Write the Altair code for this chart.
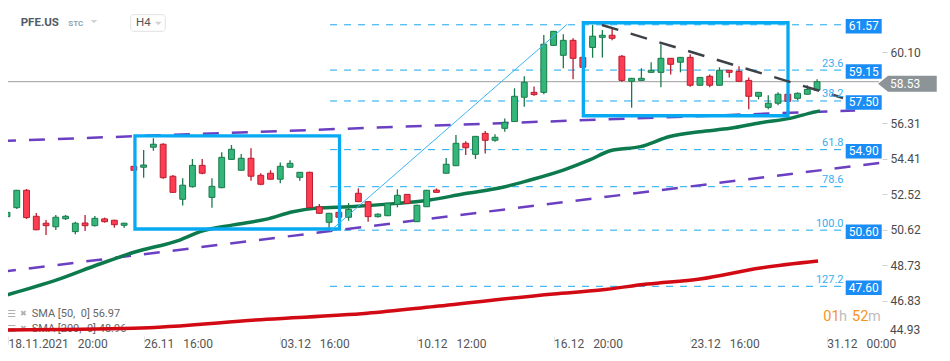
import altair as alt
import pandas as pd
import numpy as np

# ---------------- data ----------------
opens = [51.32, 51.80, 52.73, 51.34, 50.97, 50.78, 51.21, 50.52, 50.98, 50.84,
         51.20, 51.13, 50.86, 54.01, 53.96, 55.03, 55.19, 53.48, 52.25, 52.92,
         54.06, 52.35, 52.87, 54.38, 53.80, 54.44, 53.53, 53.64, 53.32, 53.96,
         53.42, 53.69, 51.85, 51.02, 51.55, 51.29, 52.57, 52.12, 51.32, 51.37,
         51.98, 52.51, 51.05, 51.85, 52.74, 53.64, 54.04, 55.24, 54.65, 55.77,
         55.40, 56.04, 56.40, 57.70, 57.96, 57.96, 60.47, 59.94, 60.74, 59.83,
         60.36, 60.90, 61.01, 59.89, 58.55, 58.60, 59.03, 59.03, 59.78, 59.57,
         59.83, 58.34, 58.82, 58.34, 59.14, 59.08, 58.60, 57.75, 57.16, 57.38,
         57.86, 57.64, 57.86, 58.07]
highs = [51.57, 52.75, 52.80, 51.52, 51.14, 51.41, 51.41, 51.05, 51.41, 51.36,
         51.27, 51.15, 50.99, 54.02, 54.88, 55.51, 55.24, 53.55, 53.37, 54.40,
         54.40, 53.37, 54.76, 55.15, 54.67, 54.97, 53.64, 53.80, 54.22, 54.33,
         53.71, 53.72, 51.99, 51.52, 51.57, 52.05, 52.83, 52.14, 51.50, 52.05,
         52.78, 52.53, 51.95, 52.75, 52.83, 54.45, 55.68, 55.35, 55.63, 55.90,
         55.72, 56.57, 58.18, 58.82, 58.28, 61.02, 61.24, 61.06, 60.85, 59.85,
         61.57, 61.29, 61.34, 59.96, 58.73, 59.25, 59.57, 60.53, 59.80, 59.85,
         59.99, 58.78, 58.92, 59.30, 59.16, 59.35, 58.76, 57.98, 57.80, 57.96,
         57.88, 57.96, 58.34, 58.66]
lows = [51.05, 51.73, 51.20, 50.60, 50.34, 50.61, 51.14, 50.38, 50.55, 50.80,
        51.00, 50.73, 50.73, 53.78, 53.40, 54.84, 53.35, 52.60, 51.91, 52.87,
        53.58, 51.80, 52.84, 54.36, 53.78, 53.24, 53.00, 53.30, 53.10, 53.94,
        53.24, 51.78, 51.48, 50.60, 51.27, 51.10, 52.10, 51.05, 51.28, 51.35,
        51.82, 52.01, 51.03, 51.83, 52.60, 53.62, 54.02, 54.61, 54.40, 54.70,
        55.32, 55.86, 56.38, 57.19, 57.78, 57.86, 60.45, 59.25, 58.66, 59.28,
        59.81, 59.82, 60.74, 58.53, 57.14, 58.58, 59.01, 58.23, 58.92, 59.03,
        58.26, 58.32, 58.23, 58.32, 58.76, 58.53, 57.06, 57.59, 57.06, 57.27,
        57.46, 57.54, 57.84, 58.05]
closes = [51.55, 52.73, 51.27, 50.62, 50.84, 51.29, 51.34, 50.97, 50.84, 51.23,
          51.05, 50.89, 50.97, 53.80, 54.08, 55.19, 53.40, 52.62, 53.00, 54.06,
          53.64, 52.94, 54.49, 54.92, 54.44, 53.48, 53.05, 53.32, 54.01, 54.17,
          53.69, 51.80, 51.50, 51.50, 51.29, 51.71, 52.12, 51.32, 51.45, 52.03,
          52.46, 52.03, 51.93, 52.73, 52.62, 54.12, 55.24, 55.00, 55.61, 55.40,
          55.56, 56.36, 57.75, 58.50, 57.84, 60.53, 61.22, 60.74, 59.78, 59.30,
          60.96, 61.01, 60.85, 58.60, 58.71, 58.71, 59.14, 59.78, 59.46, 59.83,
          58.34, 58.76, 58.34, 59.14, 59.03, 58.55, 57.75, 57.96, 57.38, 57.86,
          57.48, 57.91, 58.12, 58.53]

sma50_idx = [0, 5.1, 9.5, 13.1, 17.7, 19.8, 23.2, 26.6, 29.3, 31.8, 35.1, 40.0,
             43.3, 46.7, 50.8, 53.6, 57.0, 59.7, 61.8, 64.9, 67.9, 71.0, 74.1,
             77.2, 80.2, 82.6, 83.3]
sma50_val = [47.14, 47.94, 48.79, 49.43, 50.07, 50.52, 50.88, 51.19, 51.58, 51.78,
             51.85, 52.03, 52.21, 52.53, 52.89, 53.28, 53.81, 54.35, 54.84, 55.06,
             55.60, 55.86, 56.04, 56.34, 56.57, 56.89, 56.97]
sma200_idx = [0, 13.0, 26.6, 36.9, 43.8, 56.0, 60.8, 65.6, 71.0, 77.2, 83.1]
sma200_val = [45.27, 45.36, 45.84, 46.16, 46.52, 47.19, 47.40, 47.72, 47.99, 48.58, 48.95]

fib_pct = ["", "23.6", "38.2", "61.8", "78.6", "100.0", "127.2"]
fib_price = [61.57, 59.15, 57.50, 54.90, 52.92, 50.60, 47.60]
fib_boxed = [True, True, True, True, False, True, True]
fib_start, fib_end = 33.1, 85.86

channel_grp = ["up", "up", "low", "low"]
channel_idx = [-0.72, 86.9, -0.72, 89.4]
channel_val = [55.36, 56.99, 48.36, 54.19]

trend_idx = [60.96, 85.66]
trend_val = [61.56, 57.66]
diag_idx = [33.1, 57.4]
diag_val = [50.55, 61.60]

box_i0 = [13.11, 59.05]
box_i1 = [34.07, 80.02]
box_p0 = [50.66, 56.71]
box_p1 = [55.64, 61.68]

last_price = 58.53
y_ticks = [46.83, 48.73, 50.62, 52.52, 54.41, 56.31, 60.10]
x_tick_pos = [0.11, 14, 28, 42, 56, 70, 84]
NB = "\u00a0\u00a0\u00a0"
x_tick_txt = ["18.11.2021" + NB + "20:00", "26.11" + NB + "16:00", "03.12" + NB + "16:00",
              "10.12" + NB + "12:00", "16.12" + NB + "20:00", "23.12" + NB + "16:00",
              "31.12" + NB + "00:00"]

# ---------------- layout ----------------
W, H = 872, 328
X_DOM = [0.1025, 89.447]
Y_DOM = [44.945, 62.467]
PPX = (Y_DOM[1] - Y_DOM[0]) / H
FONT = "Roboto"

xs = alt.Scale(domain=X_DOM, nice=False, zero=False)
ys = alt.Scale(domain=Y_DOM, nice=False, zero=False)

expr = "''"
for k in range(len(x_tick_pos) - 1, -1, -1):
    if k == len(x_tick_pos) - 1:
        expr = "'" + x_tick_txt[k] + "'"
    else:
        mid = (x_tick_pos[k] + x_tick_pos[k + 1]) / 2
        expr = "datum.value < %s ? '%s' : (%s)" % (mid, x_tick_txt[k], expr)

x_axis = alt.Axis(values=x_tick_pos, labelExpr=expr, title=None, domain=False, grid=False,
                  ticks=True, tickSize=8, tickColor="#e6e6e6", labelPadding=-6,
                  labelAlign="left", labelBaseline="top", labelFontSize=12,
                  labelColor="#555555", labelFont=FONT, labelOverlap=False,
                  labelFlush=False, labelBound=False)
y_axis = alt.Axis(values=y_ticks, orient="right", title=None, domain=False, grid=False,
                  ticks=True, tickSize=5, tickColor="#d0d0d0", offset=2, labelPadding=3,
                  labelFontSize=12, labelColor="#4a4a4a", labelFont=FONT,
                  labelOverlap=False, labelFlush=False, labelBound=False, format=".2f")


def X(f):
    return alt.X(f, type="quantitative", scale=xs, axis=x_axis)


def Y(f):
    return alt.Y(f, type="quantitative", scale=ys, axis=y_axis)


def txt(t, x, y, **kw):
    return alt.Chart(pd.DataFrame({"t": [t]})).mark_text(font=FONT, **kw).encode(
        x=alt.value(x), y=alt.value(y), text="t:N")


# candles
cd = pd.DataFrame({"i": list(range(len(opens))), "o": opens, "h": highs, "l": lows, "c": closes})
cd["dir"] = np.where(cd.c >= cd.o, "up", "down")
cd["x1"] = cd.i - 0.3
cd["x2"] = cd.i + 0.3
cd["top"] = np.maximum(cd.o, cd.c)
cd["bot"] = np.minimum(cd.o, cd.c)
cd["bot"] = np.minimum(cd["bot"], cd["top"] - 0.09)

fill_sc = alt.Scale(domain=["up", "down"], range=["#33b679", "#ff3d52"])
edge_sc = alt.Scale(domain=["up", "down"], range=["#1b7a4c", "#b81e30"])

wicks = alt.Chart(cd).mark_rule(strokeWidth=1.3).encode(
    x=X("i"), y=Y("l"), y2="h", color=alt.Color("dir:N", scale=edge_sc, legend=None))
bodies = alt.Chart(cd).mark_rect(strokeWidth=1).encode(
    x=X("x1"), x2="x2", y=Y("top"), y2="bot",
    fill=alt.Fill("dir:N", scale=fill_sc, legend=None),
    stroke=alt.Stroke("dir:N", scale=edge_sc, legend=None))

# fib
fd = pd.DataFrame({"p": fib_price, "pct": fib_pct, "boxed": fib_boxed})
fd["x0"] = fib_start
fd["x1"] = fib_end
fd["xl"] = 85.71
fd["bt"] = fd.p + 5.75 * PPX
fd["bb"] = fd.p - 8.75 * PPX
fib_lines = alt.Chart(fd).mark_rule(strokeDash=[7, 7], color="#1aa7ee", strokeWidth=1).encode(
    x=X("x0"), x2="x1", y=Y("p"))
fib_txt = alt.Chart(fd).mark_text(align="right", baseline="middle", dy=-6.5, fontSize=11,
                                  color="#35aef2", font=FONT).encode(
    x=X("xl"), y=Y("p"), text="pct:N")
bx = fd[fd.boxed].copy()
bx["lab"] = bx.p.map(lambda v: "%.2f" % v)
fib_box = alt.Chart(bx).mark_rect(fill="#1a8cf5").encode(
    x=alt.value(837.7), x2=alt.value(873.7), y=Y("bt"), y2="bb")
fib_box_t = alt.Chart(bx).mark_text(align="center", baseline="middle", dy=1.5, fontSize=12,
                                    color="white", font=FONT).encode(
    x=alt.value(855.7), y=Y("p"), text="lab:N")

# last price line + tag
lp = pd.DataFrame({"p": [last_price], "lab": ["%.2f" % last_price]})
lp_line = alt.Chart(lp).mark_rule(color="#9d9d9d", strokeWidth=1).encode(
    x=alt.value(0), x2=alt.value(871), y=Y("p"))
tag_shape = "M-1,0L-0.66,-0.2726L1,-0.2726L1,0.2726L-0.66,0.2726Z"
lp_tag = alt.Chart(lp).mark_point(shape=tag_shape, size=3446, filled=True, opacity=1,
                                  color="#8c9497", yOffset=2).encode(
    x=alt.value(899.4), y=Y("p"))
lp_txt = alt.Chart(lp).mark_text(align="left", baseline="middle", dy=2, fontSize=12,
                                 color="white", font=FONT).encode(
    x=alt.value(882), y=Y("p"), text="lab:N")

# channel lines
ch = pd.DataFrame({"g": channel_grp, "i": channel_idx, "p": channel_val})
channel = alt.Chart(ch).mark_line(strokeDash=[16, 13], strokeWidth=2.5, color="#6a3fc2").encode(
    x=X("i"), y=Y("p"), detail="g:N")

# SMAs
s50 = pd.DataFrame({"i": sma50_idx, "p": sma50_val})
s200 = pd.DataFrame({"i": sma200_idx, "p": sma200_val})
sma50 = alt.Chart(s50).mark_line(strokeWidth=3.5, color="#0c7a4c", interpolate="monotone").encode(
    x=X("i"), y=Y("p"))
sma200 = alt.Chart(s200).mark_line(strokeWidth=3.5, color="#d20a14", interpolate="monotone").encode(
    x=X("i"), y=Y("p"))

# drawings
tr = pd.DataFrame({"i": trend_idx, "p": trend_val})
trend = alt.Chart(tr).mark_line(strokeDash=[17, 13], strokeWidth=2.5, color="#3c4147").encode(
    x=X("i"), y=Y("p"))
dg = pd.DataFrame({"i": diag_idx, "p": diag_val})
diag = alt.Chart(dg).mark_line(strokeWidth=1, color="#3ab5f5").encode(x=X("i"), y=Y("p"))
bxd = pd.DataFrame({"i0": box_i0, "i1": box_i1, "p0": box_p0, "p1": box_p1})
boxes = alt.Chart(bxd).mark_rect(fill="white", fillOpacity=0, stroke="#07a9f2", strokeWidth=3.3).encode(
    x=X("i0"), x2="i1", y=Y("p0"), y2="p1")

# decorations
tri = "M-1,-0.5L1,-0.5L0,0.5Z"
deco = [
    txt("PFE.US", 12.7, 15.2, align="left", baseline="middle", fontSize=11.5, fontWeight="bold", color="#515b65"),
    txt("STC", 60.3, 16.4, align="left", baseline="middle", fontSize=8, fontWeight="bold", color="#90a4b6"),
    alt.Chart(pd.DataFrame({"t": [1]})).mark_point(shape=tri, size=44, filled=True, opacity=1, color="#d2d2d2").encode(
        x=alt.value(86), y=alt.value(13.7)),
    alt.Chart(pd.DataFrame({"t": [1]})).mark_rect(fill="white", stroke="#e2e2e2", strokeWidth=1, cornerRadius=3).encode(
        x=alt.value(122.7), x2=alt.value(157.3), y=alt.value(6.7), y2=alt.value(23.3)),
    txt("H4", 128, 15.2, align="left", baseline="middle", fontSize=11.5, color="#555555"),
    alt.Chart(pd.DataFrame({"t": [1]})).mark_point(shape=tri, size=44, filled=True, opacity=1, color="#d2d2d2").encode(
        x=alt.value(150.3), y=alt.value(15.5)),
    txt("\u2630", -1, 306, align="left", baseline="middle", fontSize=10, color="#b0b0b0", ),
    txt("\u2716", 15.5, 306, align="center", baseline="middle", fontSize=8, color="#b0b0b0"),
    txt("SMA [50,\u00a0 0] 56.97", 23.7, 306.3, align="left", baseline="middle", fontSize=11, color="#666666"),
    txt("\u2630", -1, 320.5, align="left", baseline="middle", fontSize=10, color="#b0b0b0"),
    txt("\u2716", 15.5, 320.5, align="center", baseline="middle", fontSize=8, color="#b0b0b0"),
    txt("SMA [200,\u00a0 0] 48.96", 23.7, 320.8, align="left", baseline="middle", fontSize=11, color="#666666"),
]
extra = [
    txt("44.93", 882, 322, align="left", baseline="middle", fontSize=12, color="#4a4a4a"),
    txt("01", 815.3, 308.7, align="left", baseline="middle", fontSize=14.5, color="#f7931e"),
    txt("h", 831, 308.7, align="left", baseline="middle", fontSize=14.5, color="#bdbdbd"),
    txt("52", 844, 308.7, align="left", baseline="middle", fontSize=14.5, color="#f7931e"),
    txt("m", 860, 308.7, align="left", baseline="middle", fontSize=14.5, color="#bdbdbd"),
]

chart = alt.layer(
    fib_lines, lp_line, *deco, channel, sma200, sma50, wicks, bodies, boxes, diag, trend,
    fib_txt, fib_box, fib_box_t, lp_tag, lp_txt, *extra
).properties(
    width=W, height=H,
    autosize=alt.AutoSizeParams(type="none"),
    padding={"left": 0, "top": 0, "right": 62, "bottom": 17},
    background="white",
).configure_view(stroke=None)

chart.save("out.html", embed_options={"renderer": "svg", "actions": False})
